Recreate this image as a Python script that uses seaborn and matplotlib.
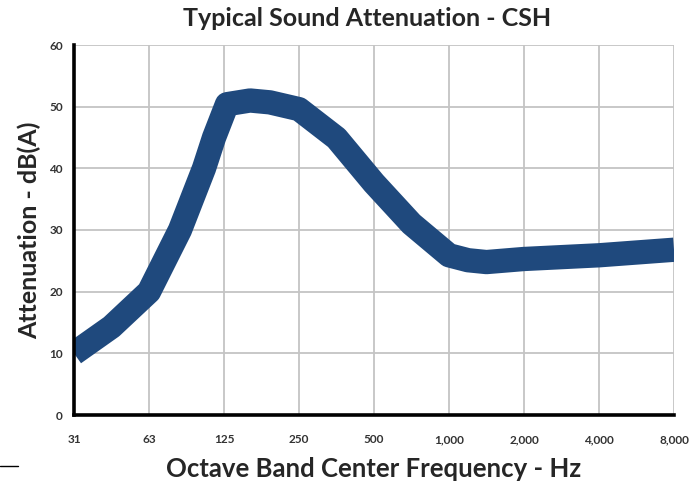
import numpy as np
import pandas as pd
import matplotlib
matplotlib.use("Agg")
import matplotlib.pyplot as plt
import seaborn as sns
from matplotlib.lines import Line2D

# Data (centre line of the band)
freq_hz = [31.25, 44.2, 62.5, 83.2, 103.9, 114, 128.5, 159, 191, 250,
           353.6, 500, 707.1, 1000, 1192, 1414, 2000, 4000, 8000]
atten_db = [10.0, 14.3, 20.0, 30.0, 40.0, 45.0, 50.4, 51.0, 50.7, 49.6,
            44.9, 37.6, 31.0, 25.9, 25.1, 24.8, 25.3, 25.9, 26.8]
tick_freq = [31.25, 62.5, 125, 250, 500, 1000, 2000, 4000, 8000]
tick_labels = ["31", "63", "125", "250", "500", "1,000", "2,000", "4,000", "8,000"]
y_ticks = [0, 10, 20, 30, 40, 50, 60]

title = "Typical Sound Attenuation - CSH"
xlabel = "Octave Band Center Frequency - Hz"
ylabel = "Attenuation - dB(A)"

df = pd.DataFrame({"freq": freq_hz, "atten": atten_db})

sns.set_style("white")
plt.rcParams["font.family"] = ["Lato", "DejaVu Sans"]

fig = plt.figure(figsize=(6.94, 4.87), dpi=100)
ax = fig.add_axes([74 / 694, 1 - 415 / 487, 600 / 694, 370 / 487])

sns.lineplot(data=df, x="freq", y="atten", ax=ax, color="#1F497D",
             linewidth=17.5, zorder=3)
for ln in ax.lines:
    ln.set_solid_joinstyle("round")
    ln.set_solid_capstyle("butt")

ax.set_xscale("log", base=2)
ax.set_xlim(31.25, 8000)
ax.set_ylim(0, 60)
ax.set_xticks(tick_freq)
ax.set_xticklabels(tick_labels)
ax.minorticks_off()
ax.set_yticks(y_ticks)
ax.set_yticklabels([str(v) for v in y_ticks])

ax.grid(True, which="major", color="#c4c4c4", linewidth=1.3, zorder=0)
ax.set_axisbelow(True)

for s in ["top", "right"]:
    ax.spines[s].set_visible(False)
for s in ["left", "bottom"]:
    ax.spines[s].set_color("black")
    ax.spines[s].set_linewidth(2.6)
    ax.spines[s].set_zorder(4)

ax.tick_params(axis="both", length=0, labelsize=8.5, labelcolor="#333333")
ax.tick_params(axis="x", pad=14)
ax.tick_params(axis="y", pad=8)
for lab in ax.get_xticklabels() + ax.get_yticklabels():
    lab.set_fontweight("bold")

ax.set_xlabel(xlabel, fontsize=18.5, fontweight="bold", labelpad=8)
ax.set_ylabel(ylabel, fontsize=18, fontweight="bold", labelpad=6)
fig.text(367 / 694, 1 - 18 / 487, title, ha="center", va="center",
         fontsize=18, fontweight="bold")

fig.add_artist(Line2D([0, 18 / 694], [1 - 466 / 487, 1 - 466 / 487],
                      color="black", linewidth=1))

fig.savefig("out.png", dpi=100)
